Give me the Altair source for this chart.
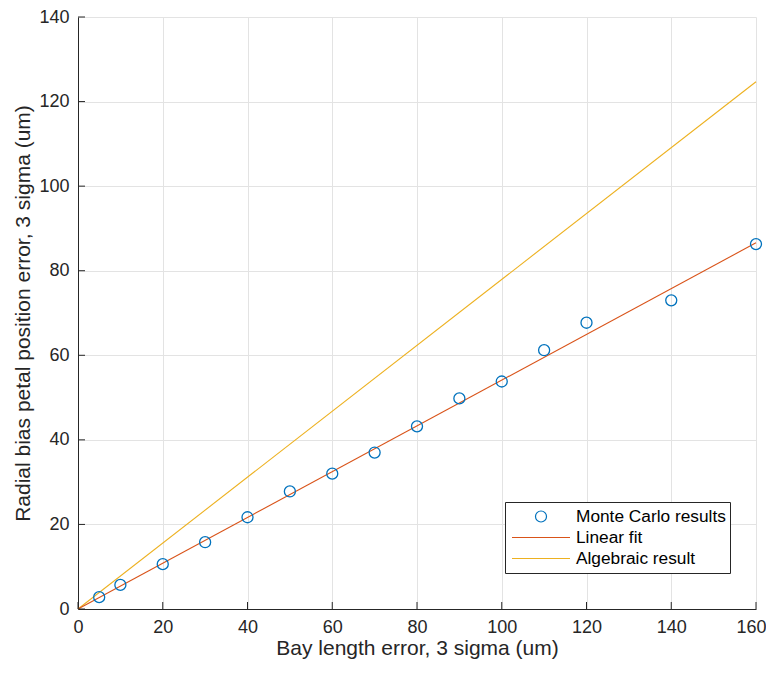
import altair as alt
import pandas as pd

# Monte Carlo results
mc_x = [5, 10, 20, 30, 40, 50, 60, 70, 80, 90, 100, 110, 120, 140, 160]
mc_y = [2.8, 5.7, 10.6, 15.8, 21.7, 27.8, 32.0, 37.0, 43.2, 49.8, 53.8, 61.2, 67.7, 73.0, 86.3]

# Linear fit endpoints
fit_x = [0, 160]
fit_y = [0, 86.6]

# Algebraic result endpoints
alg_x = [0, 160]
alg_y = [0, 124.7]

series = ["Monte Carlo results", "Linear fit", "Algebraic result"]
colors = ["#0072BD", "#D95319", "#EDB120"]

x_ticks = [0, 20, 40, 60, 80, 100, 120, 140, 160]
y_ticks = [0, 20, 40, 60, 80, 100, 120, 140]

W, H = 678, 592
FONT = "Liberation Sans"
AX = "#262626"

circle_path = "M-0.19,0A0.19,0.19,0,1,1,0.19,0A0.19,0.19,0,1,1,-0.19,0Z"
line_path = "M-1,0L1,0"

mc = pd.DataFrame({"x": mc_x, "y": mc_y, "s": series[0]})
fit = pd.DataFrame({"x": fit_x, "y": fit_y})
alg = pd.DataFrame({"x": alg_x, "y": alg_y})
xt = pd.DataFrame({"x": x_ticks})
yt = pd.DataFrame({"y": y_ticks})

xscale = alt.Scale(domain=[0, 160], nice=False, zero=False)
yscale = alt.Scale(domain=[0, 140], nice=False, zero=False)

last_x = "datum.value == %d" % x_ticks[-1]
xaxis = alt.Axis(values=x_ticks, title="Bay length error, 3 sigma (um)", grid=True,
                 ticks=False, labelPadding=9, titlePadding=1, labelFlush=False,
                 labelAlign={"condition": {"test": last_x, "value": "right"}, "value": "center"},
                 labelOffset={"condition": {"test": last_x, "value": 10}, "value": 0})
yaxis = alt.Axis(values=y_ticks, title="Radial bias petal position error, 3 sigma (um)",
                 grid=True, ticks=False, labelPadding=9, titlePadding=5, labelFlush=False)

X = alt.X("x:Q", scale=xscale, axis=xaxis)
Y = alt.Y("y:Q", scale=yscale, axis=yaxis)

alg_layer = alt.Chart(alg).mark_line(color=colors[2], strokeWidth=1.1).encode(x=X, y=Y)
fit_layer = alt.Chart(fit).mark_line(color=colors[1], strokeWidth=1.1).encode(x=X, y=Y)

legend = alt.Legend(
    title=None, orient="none", legendX=427, legendY=485,
    symbolSize=3364, symbolStrokeWidth=1.2, clipHeight=21, rowPadding=0,
    padding=4, symbolOffset=2, labelOffset=5,
    strokeColor=AX, fillColor="white",
    labelFont=FONT, labelFontSize=17.3, labelColor="#000000", labelLimit=400,
)

pts = alt.Chart(mc).mark_point(filled=False, size=3364, strokeWidth=1.3, opacity=1).encode(
    x=X, y=Y,
    color=alt.Color("s:N", scale=alt.Scale(domain=series, range=colors), legend=legend),
    shape=alt.Shape("s:N", scale=alt.Scale(domain=series, range=[circle_path, line_path, line_path]),
                    legend=legend),
)

xtick_layer = alt.Chart(xt).mark_rule(color=AX, strokeWidth=1).encode(
    x=X, y=alt.value(H), y2=alt.value(H - 7))
ytick_layer = alt.Chart(yt).mark_rule(color=AX, strokeWidth=1).encode(
    y=Y, x=alt.value(0), x2=alt.value(7))

chart = alt.layer(alg_layer, fit_layer, xtick_layer, ytick_layer, pts).properties(
    width=W, height=H,
    autosize=alt.AutoSizeParams(type="none"),
    padding={"left": 70, "top": 9, "right": 10, "bottom": 56},
).configure_view(stroke=None).configure_axis(
    domainColor=AX, domainWidth=1, gridColor="#e3e3e3", gridWidth=1,
    labelFont=FONT, labelFontSize=18, labelColor=AX,
    titleFont=FONT, titleFontSize=21, titleColor=AX, titleFontWeight="normal",
)

chart.save("out.html", embed_options={"renderer": "svg", "actions": False})
